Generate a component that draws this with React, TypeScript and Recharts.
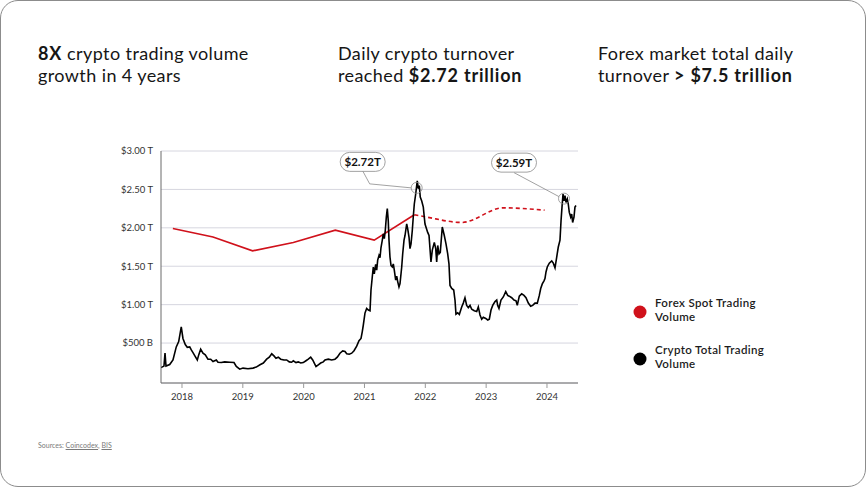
import { LineChart, Line, XAxis, YAxis, CartesianGrid, ReferenceDot } from 'recharts';

// crypto total trading volume (trillions USD)
const cryptoYears = [
  2017.655, 2017.704, 2017.721, 2017.737, 2017.798, 2017.852, 2017.906, 2017.946, 2017.988,
  2018.016, 2018.054, 2018.087, 2018.127, 2018.153, 2018.181, 2018.219, 2018.252, 2018.275,
  2018.307, 2018.345, 2018.383, 2018.427, 2018.472, 2018.51, 2018.564, 2018.592, 2018.646,
  2018.702, 2018.784, 2018.855, 2018.893, 2018.949, 2019.003, 2019.085, 2019.167, 2019.221,
  2019.282, 2019.337, 2019.392, 2019.435, 2019.475, 2019.512, 2019.545, 2019.583, 2019.623,
  2019.677, 2019.721, 2019.764, 2019.803, 2019.83, 2019.874, 2019.912, 2019.951, 2019.994,
  2020.038, 2020.076, 2020.116, 2020.149, 2020.175, 2020.203, 2020.241, 2020.28, 2020.323,
  2020.351, 2020.405, 2020.461, 2020.515, 2020.553, 2020.597, 2020.642, 2020.68, 2020.708,
  2020.75, 2020.79, 2020.828, 2020.872, 2020.91, 2020.943, 2020.964, 2020.981, 2021.008,
  2021.036, 2021.063, 2021.091, 2021.107, 2021.128, 2021.145, 2021.161, 2021.184, 2021.201,
  2021.217, 2021.239, 2021.255, 2021.271, 2021.293, 2021.309, 2021.326, 2021.342, 2021.359,
  2021.375, 2021.391, 2021.403, 2021.419, 2021.436, 2021.457, 2021.474, 2021.49, 2021.513,
  2021.53, 2021.546, 2021.567, 2021.584, 2021.612, 2021.628, 2021.65, 2021.666, 2021.694,
  2021.71, 2021.732, 2021.748, 2021.765, 2021.786, 2021.802, 2021.819, 2021.842, 2021.858,
  2021.868, 2021.885, 2021.901, 2021.917, 2021.941, 2021.967, 2021.983, 2021.995, 2022.039,
  2022.061, 2022.093, 2022.115, 2022.148, 2022.171, 2022.187, 2022.204, 2022.225, 2022.246,
  2022.279, 2022.312, 2022.34, 2022.368, 2022.389, 2022.406, 2022.434, 2022.467, 2022.488,
  2022.504, 2022.532, 2022.559, 2022.598, 2022.624, 2022.652, 2022.68, 2022.707, 2022.735,
  2022.763, 2022.805, 2022.845, 2022.871, 2022.899, 2022.927, 2022.953, 2022.993, 2023.026,
  2023.052, 2023.08, 2023.108, 2023.146, 2023.174, 2023.19, 2023.211, 2023.244, 2023.282,
  2023.322, 2023.354, 2023.38, 2023.42, 2023.458, 2023.491, 2023.512, 2023.545, 2023.584,
  2023.622, 2023.655, 2023.693, 2023.732, 2023.765, 2023.803, 2023.841, 2023.874, 2023.897,
  2023.923, 2023.951, 2023.967, 2023.984, 2024.005, 2024.038, 2024.078, 2024.104, 2024.132,
  2024.16, 2024.186, 2024.214, 2024.231, 2024.247, 2024.264, 2024.28, 2024.296, 2024.313,
  2024.334, 2024.35, 2024.367, 2024.39, 2024.406, 2024.422, 2024.444, 2024.46, 2024.477,
];
const cryptoValues = [
  0.18, 0.2, 0.37, 0.2, 0.22, 0.28, 0.45, 0.52, 0.71,
  0.56, 0.48, 0.445, 0.45, 0.41, 0.376, 0.324, 0.28, 0.346,
  0.42, 0.368, 0.346, 0.29, 0.29, 0.26, 0.28, 0.25, 0.246,
  0.255, 0.25, 0.246, 0.195, 0.16, 0.174, 0.165, 0.174, 0.187,
  0.217, 0.24, 0.29, 0.316, 0.36, 0.333, 0.303, 0.316, 0.29,
  0.28, 0.28, 0.255, 0.25, 0.27, 0.246, 0.255, 0.24, 0.246,
  0.27, 0.29, 0.316, 0.28, 0.24, 0.195, 0.217, 0.24, 0.255,
  0.28, 0.29, 0.28, 0.29, 0.316, 0.368, 0.398, 0.39, 0.36,
  0.355, 0.368, 0.4, 0.46, 0.53, 0.56, 0.65, 0.735, 0.89,
  0.95, 0.93, 0.92, 1.19, 1.36, 1.49, 1.4, 1.525, 1.45,
  1.58, 1.64, 1.61, 1.74, 1.84, 1.92, 1.86, 1.965, 2.14,
  2.25, 2.09, 1.84, 1.62, 1.51, 1.49, 1.53, 1.45, 1.32,
  1.37, 1.3, 1.23, 1.275, 1.49, 1.66, 1.84, 1.9, 2.05,
  1.99, 1.88, 1.73, 1.79, 1.965, 2.14, 2.31, 2.44, 2.55,
  2.61, 2.51, 2.55, 2.4, 2.35, 2.27, 2.14, 2.05, 1.94,
  1.9, 1.555, 1.71, 1.81, 1.73, 1.555, 1.77, 1.66, 1.68,
  2.01, 1.9, 1.79, 1.66, 1.53, 1.25, 1.21, 1.19, 1.06,
  0.877, 0.894, 0.873, 0.97, 1.02, 1.09, 0.99, 0.96, 0.99,
  0.94, 0.92, 0.91, 0.97, 0.865, 0.81, 0.835, 0.82, 0.8,
  0.81, 0.93, 0.99, 1.04, 1.06, 0.99, 0.95, 1.06, 1.1,
  1.17, 1.12, 1.11, 1.09, 1.06, 1.05, 0.99, 1.11, 1.14,
  1.12, 1.09, 1.02, 0.98, 0.99, 1.02, 1.02, 1.12, 1.21,
  1.27, 1.31, 1.34, 1.425, 1.49, 1.54, 1.57, 1.54, 1.48,
  1.62, 1.75, 1.84, 2.09, 2.27, 2.44, 2.35, 2.42, 2.33,
  2.375, 2.31, 2.2, 2.14, 2.18, 2.07, 2.14, 2.27, 2.29,
];

// forex spot trading volume (BIS survey points), solid then projected dashed part
const forexYears = [2017.85, 2018.51, 2019.16, 2019.83, 2020.52, 2021.16, 2021.82];
const forexValues = [1.99, 1.88, 1.7, 1.81, 1.97, 1.84, 2.17];
const forexProjYears = [2021.82, 2022.02, 2022.6, 2023.28, 2023.96];
const forexProjValues = [2.17, 2.14, 2.07, 2.26, 2.23];

const xTicks = [2018, 2019, 2020, 2021, 2022, 2023, 2024];
const yTicks = [0.5, 1, 1.5, 2, 2.5, 3];
const yTickLabels = ['$500 B', '$1.00 T', '$1.50 T', '$2.00 T', '$2.50 T', '$3.00 T'];

// callouts: where the circle sits and what the bubble says
const calloutYears = [2021.858, 2024.28];
const calloutValues = [2.52, 2.38];
const calloutLabels = ['$2.72T', '$2.59T'];

const cryptoData = cryptoYears.map((t, i) => ({ t, v: cryptoValues[i] }));
const forexData = forexYears.map((t, i) => ({ t, v: forexValues[i] }));
const forexProjData = forexProjYears.map((t, i) => ({ t, v: forexProjValues[i] }));

const FONT = 'Lato, "Open Sans", sans-serif';
const RED = '#d0111b';

// circle + leader line + rounded bubble, offsets relative to the circle centre
function Callout({ cx, cy, text, bx, by, path }: any) {
  if (cx == null || cy == null) return null;
  const w = 45;
  const h = 19;
  return (
    <g>
      <circle cx={cx} cy={cy} r={5.5} fill="none" stroke="#8a8a8a" strokeWidth={0.8} />
      <polyline
        points={path.map(([x, y]: number[]) => `${cx + x},${cy + y}`).join(' ')}
        fill="none"
        stroke="#8a8a8a"
        strokeWidth={0.8}
      />
      <rect x={cx + bx - w / 2} y={cy + by - h / 2} width={w} height={h} rx={9.5} fill="#fff" stroke="#8a8a8a" strokeWidth={0.8} />
      <text x={cx + bx} y={cy + by + 4} textAnchor="middle" fontFamily={FONT} fontWeight={700} fontSize={11.5} fill="#111">
        {text}
      </text>
    </g>
  );
}

const calloutGeometry = [
  { bx: -54, by: -26, path: [[-54, -17], [-47, -4], [-5.5, 0]] },
  { bx: -50, by: -36, path: [[-50, -26], [-5, -2]] },
];

const headStyle: React.CSSProperties = {
  position: 'absolute',
  top: 41,
  fontFamily: FONT,
  fontSize: 18,
  lineHeight: '22px',
  letterSpacing: 0.4,
  color: '#161616',
  margin: 0,
};

const boldStyle: React.CSSProperties = { fontWeight: 700, letterSpacing: 0.8 };

const legendText: React.CSSProperties = {
  position: 'absolute',
  left: 654,
  fontFamily: FONT,
  fontSize: 11.5,
  fontWeight: 600,
  lineHeight: '13.5px',
  letterSpacing: 0.35,
  color: '#1c1c1c',
};

export default function App() {
  return (
    <div
      style={{
        position: 'absolute',
        left: 0,
        top: 0,
        width: 866,
        height: 487,
        boxSizing: 'border-box',
        border: '1px solid #8c8c8c',
        borderRadius: 18,
        background: '#fff',
        overflow: 'hidden',
      }}
    >
      <div style={{ ...headStyle, left: 37 }}>
        <span style={boldStyle}>8X</span> crypto trading volume
        <br />
        growth in 4 years
      </div>
      <div style={{ ...headStyle, left: 337 }}>
        Daily crypto turnover
        <br />
        reached <span style={boldStyle}>$2.72 trillion</span>
      </div>
      <div style={{ ...headStyle, left: 597 }}>
        Forex market total daily
        <br />
        turnover <span style={boldStyle}>&gt; $7.5 trillion</span>
      </div>

      <div style={{ position: 'absolute', left: 99, top: 129 }}>
        <LineChart width={500} height={300} margin={{ top: 21, right: 22, bottom: 17, left: 0 }}>
          <CartesianGrid vertical={false} stroke="#d6d6df" strokeWidth={1} />
          <XAxis
            dataKey="t"
            type="number"
            domain={[2017.655, 2024.51]}
            ticks={xTicks}
            allowDataOverflow
            height={30}
            axisLine={{ stroke: '#6a6a6a' }}
            tickLine={{ stroke: '#9a9a9a' }}
            tickSize={5}
            tickMargin={5}
            tick={{ fontSize: 9.5, fill: '#333', fontFamily: FONT }}
          />
          <YAxis
            type="number"
            domain={[-0.02, 3]}
            ticks={yTicks}
            allowDataOverflow
            width={61}
            axisLine={{ stroke: '#6a6a6a' }}
            tickLine={false}
            tickFormatter={(v: number) => yTickLabels[yTicks.indexOf(v)] ?? ''}
            tick={{ fontSize: 9.5, fill: '#333', fontFamily: FONT }}
          />
          <Line
            data={forexData}
            dataKey="v"
            type="linear"
            stroke={RED}
            strokeWidth={1.6}
            dot={false}
            isAnimationActive={false}
          />
          <Line
            data={forexProjData}
            dataKey="v"
            type="monotone"
            stroke={RED}
            strokeWidth={1.6}
            strokeDasharray="4 3"
            dot={false}
            isAnimationActive={false}
          />
          <Line
            data={cryptoData}
            dataKey="v"
            type="linear"
            stroke="#000"
            strokeWidth={1.6}
            dot={false}
            isAnimationActive={false}
          />
          {calloutYears.map((t, i) => (
            <ReferenceDot
              key={calloutLabels[i]}
              x={t}
              y={calloutValues[i]}
              r={5.5}
              ifOverflow="visible"
              shape={(p: any) => <Callout cx={p.cx} cy={p.cy} text={calloutLabels[i]} {...calloutGeometry[i]} />}
            />
          ))}
        </LineChart>
      </div>

      {/* legend */}
      <svg style={{ position: 'absolute', left: 630, top: 300 }} width={20} height={70}>
        <circle cx={9} cy={11} r={6.5} fill={RED} />
        <circle cx={9} cy={58} r={6.5} fill="#000" />
      </svg>
      <div style={{ ...legendText, top: 295 }}>
        Forex Spot Trading
        <br />
        Volume
      </div>
      <div style={{ ...legendText, top: 342 }}>
        Crypto Total Trading
        <br />
        Volume
      </div>

      <div
        style={{
          position: 'absolute',
          left: 37,
          top: 440,
          fontFamily: FONT,
          fontSize: 7,
          color: '#7a7a7a',
        }}
      >
        Sources: <u>Coincodex</u>, <u>BIS</u>
      </div>
    </div>
  );
}
